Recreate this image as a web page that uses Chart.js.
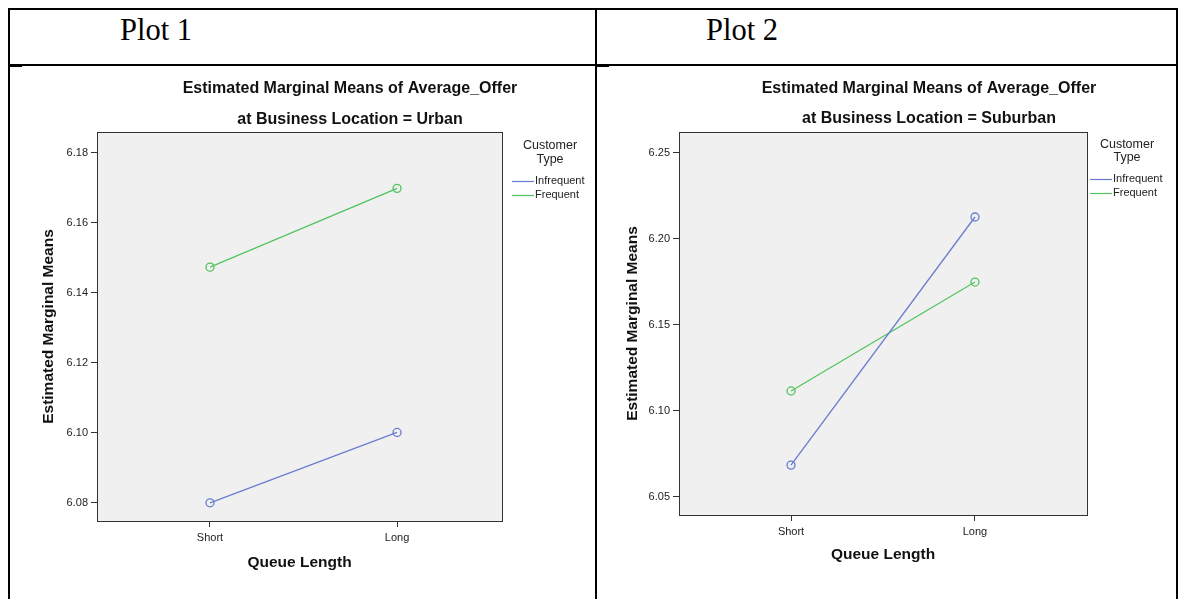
<!DOCTYPE html>
<html>
<head>
<meta charset="utf-8">
<script src="https://cdn.jsdelivr.net/npm/chart.js@4.4.1/dist/chart.umd.min.js"></script>
<style>
  html, body { margin: 0; padding: 0; background: #fff; }
  body { width: 1186px; height: 599px; position: relative; overflow: hidden; }
  .rule { position: absolute; background: #000; }
  .head { position: absolute; font-family: "Liberation Serif", "Times New Roman", serif; font-size: 30.5px; color: #000; line-height: 1; white-space: nowrap; }
  canvas { position: absolute; }
</style>
</head>
<body>
<!-- table frame -->
<div class="rule" style="left:8px;top:8px;width:1170px;height:2px"></div>
<div class="rule" style="left:8px;top:64px;width:1170px;height:1.5px"></div>
<div class="rule" style="left:8px;top:8px;width:2px;height:591px"></div>
<div class="rule" style="left:595px;top:8px;width:2px;height:591px"></div>
<div class="rule" style="left:1176px;top:8px;width:2px;height:591px"></div>
<div class="rule" style="left:10px;top:66px;width:12px;height:1px"></div>
<div class="rule" style="left:597px;top:66px;width:12px;height:1px"></div>
<div class="head" style="left:120px;top:15px">Plot 1</div>
<div class="head" style="left:706px;top:15px">Plot 2</div>

<canvas id="plot1" width="585" height="533" style="left:10px;top:66px;width:585px;height:533px"></canvas>
<canvas id="plot2" width="579" height="533" style="left:597px;top:66px;width:579px;height:533px"></canvas>

<script>
// ---- data ----
const queueLengths = ['Short', 'Long'];
const customerTypes = ['Infrequent', 'Frequent'];

// Business Location = Urban
const urbanInfrequent = [6.0800, 6.1001];
const urbanFrequent   = [6.1473, 6.1698];
const urbanYTicks     = [6.08, 6.10, 6.12, 6.14, 6.16, 6.18];

// Business Location = Suburban
const suburbanInfrequent = [6.0684, 6.2126];
const suburbanFrequent   = [6.1115, 6.1748];
const suburbanYTicks     = [6.05, 6.10, 6.15, 6.20, 6.25];

const seriesColors = ['#6a7ccf', '#52c45f'];
const FONT = '"Liberation Sans", Arial, sans-serif';

// Draws the grey plot panel, its frame, the two-line heading and the legend
const spssDecor = {
  id: 'spssDecor',
  beforeDraw(chart, args, o) {
    const { ctx, chartArea: a } = chart;
    ctx.save();
    ctx.fillStyle = '#f0f0f0';
    ctx.fillRect(a.left, a.top, a.right - a.left, a.bottom - a.top);
    ctx.restore();
  },
  afterDraw(chart, args, o) {
    const { ctx, chartArea: a } = chart;
    ctx.save();
    ctx.strokeStyle = '#333';
    ctx.lineWidth = 1;
    ctx.strokeRect(Math.round(a.left) + 0.5, Math.round(a.top) + 0.5,
                   Math.round(a.right - a.left), Math.round(a.bottom - a.top));

    // heading
    ctx.fillStyle = '#111';
    ctx.font = 'bold 16px ' + FONT;
    ctx.textAlign = 'center';
    ctx.textBaseline = 'middle';
    o.heading.forEach((t, i) => ctx.fillText(t, o.headingX - o.dx, o.headingY[i] - o.dy));

    // legend
    const L = o.legend;
    ctx.fillStyle = '#222';
    ctx.font = '12.5px ' + FONT;
    L.header.forEach((t, i) => ctx.fillText(t, L.cx - o.dx, L.headerY[i] - o.dy));
    ctx.textAlign = 'left';
    ctx.font = '11px ' + FONT;
    chart.data.datasets.forEach((ds, i) => {
      const y = L.entryY[i] - o.dy;
      ctx.strokeStyle = ds.borderColor;
      ctx.lineWidth = 1.2;
      ctx.beginPath();
      ctx.moveTo(L.x1 - o.dx, y + 0.5);
      ctx.lineTo(L.x2 - o.dx, y + 0.5);
      ctx.stroke();
      ctx.fillStyle = '#222';
      ctx.fillText(ds.label, L.x2 + 1 - o.dx, y);
    });
    ctx.restore();
  }
};

function buildChart(id, cfg) {
  const series = [cfg.infrequent, cfg.frequent];
  return new Chart(document.getElementById(id), {
    type: 'line',
    data: {
      datasets: customerTypes.map((name, s) => ({
        label: name,
        data: series[s].map((v, i) => ({ x: i, y: v })),
        borderColor: seriesColors[s],
        backgroundColor: 'rgba(0,0,0,0)',
        borderWidth: 1.3,
        pointRadius: 4,
        pointBorderWidth: 1.3,
        pointBackgroundColor: 'rgba(0,0,0,0)',
        pointBorderColor: seriesColors[s],
        tension: 0
      }))
    },
    options: {
      responsive: false,
      animation: false,
      events: [],
      layout: { padding: cfg.padding },
      plugins: {
        legend: { display: false },
        title: { display: false },
        tooltip: { enabled: false },
        spssDecor: cfg.decor
      },
      scales: {
        x: {
          type: 'linear',
          min: cfg.xMin,
          max: cfg.xMax,
          afterBuildTicks: s => { s.ticks = queueLengths.map((_, i) => ({ value: i })); },
          afterFit: s => { s.height = cfg.xAxisHeight; },
          ticks: {
            callback: v => queueLengths[v],
            color: '#222',
            font: { family: FONT, size: 11 },
            padding: 4,
            maxRotation: 0
          },
          grid: { drawOnChartArea: false, drawTicks: true, tickLength: 6, color: '#333' },
          border: { display: true, color: '#333', width: 1 },
          title: {
            display: true,
            text: 'Queue Length',
            color: '#111',
            font: { family: FONT, size: 15.5, weight: 'bold' },
            padding: { top: 0, bottom: 0 }
          }
        },
        y: {
          min: cfg.yMin,
          max: cfg.yMax,
          afterBuildTicks: s => { s.ticks = cfg.yTicks.map(v => ({ value: v })); },
          afterFit: s => { s.width = cfg.yAxisWidth; },
          ticks: {
            callback: v => Number(v).toFixed(2),
            color: '#222',
            font: { family: FONT, size: 11 },
            padding: 3
          },
          grid: { drawOnChartArea: false, drawTicks: true, tickLength: 6, color: '#333' },
          border: { display: true, color: '#333', width: 1 },
          title: {
            display: true,
            text: 'Estimated Marginal Means',
            color: '#111',
            font: { family: FONT, size: 15.5, weight: 'bold' },
            padding: { top: 0, bottom: 0 }
          }
        }
      }
    },
    plugins: [spssDecor]
  });
}

buildChart('plot1', {
  infrequent: urbanInfrequent,
  frequent: urbanFrequent,
  yTicks: urbanYTicks,
  yMin: 6.0748, yMax: 6.1859,
  xMin: -0.604, xMax: 1.561,
  padding: { left: 29, right: 93, top: 66, bottom: 27 },
  yAxisWidth: 58, xAxisHeight: 51,
  decor: {
    dx: 10, dy: 66,
    heading: ['Estimated Marginal Means of Average_Offer', 'at Business Location = Urban'],
    headingX: 350, headingY: [89, 120],
    legend: { header: ['Customer', 'Type'], cx: 550, headerY: [146, 160],
              x1: 512, x2: 534, entryY: [181, 195] }
  }
});

buildChart('plot2', {
  infrequent: suburbanInfrequent,
  frequent: suburbanFrequent,
  yTicks: suburbanYTicks,
  yMin: 6.0394, yMax: 6.2620,
  xMin: -0.609, xMax: 1.609,
  padding: { left: 26, right: 89, top: 66, bottom: 35 },
  yAxisWidth: 56, xAxisHeight: 49,
  decor: {
    dx: 597, dy: 66,
    heading: ['Estimated Marginal Means of Average_Offer', 'at Business Location = Suburban'],
    headingX: 929, headingY: [89, 119],
    legend: { header: ['Customer', 'Type'], cx: 1127, headerY: [145, 158],
              x1: 1090, x2: 1112, entryY: [179, 193] }
  }
});
</script>
</body>
</html>
